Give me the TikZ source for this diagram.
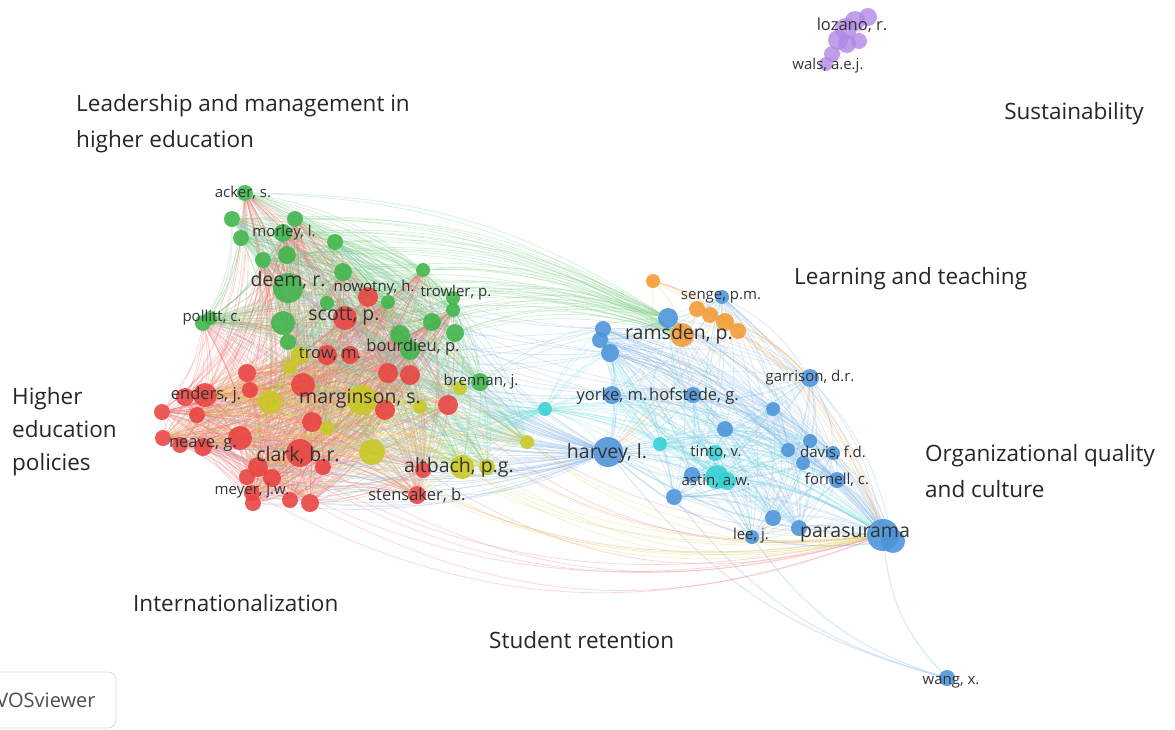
\documentclass[tikz,border=0pt]{standalone}
\usepackage{fontspec}
\setmainfont{Open Sans}
\usetikzlibrary{backgrounds}

\definecolor{vred}{HTML}{E8413E}
\definecolor{vgreen}{HTML}{3DB449}
\definecolor{vyellow}{HTML}{C9C821}
\definecolor{vblue}{HTML}{4A92D8}
\definecolor{vorange}{HTML}{F39A33}
\definecolor{vcyan}{HTML}{35D0D3}
\definecolor{vpurple}{HTML}{B088E4}
\definecolor{labgray}{HTML}{333333}

\tikzset{
  bub/.style={circle, inner sep=0pt, fill opacity=.88, minimum size=#1},
  gbub/.style={bub=#1, fill=vgreen},
  rbub/.style={bub=#1, fill=vred},
  ybub/.style={bub=#1, fill=vyellow},
  cbub/.style={bub=#1, fill=vcyan},
  bbub/.style={bub=#1, fill=vblue},
  obub/.style={bub=#1, fill=vorange},
  pbub/.style={bub=#1, fill=vpurple, fill opacity=.8},
  link/.style={line width=.8pt, draw opacity=.28},
  glink/.style={link, draw=vgreen!70},
  rlink/.style={link, draw=vred!75},
  ylink/.style={link, draw=vyellow!80},
  clink/.style={link, draw=vcyan!70},
  blink/.style={link, draw=vblue!70},
  olink/.style={link, draw=vorange!75},
  plink/.style={link, draw=vpurple!60},
  lab/.style={text=labgray, inner sep=1pt, font=\fontsize{15}{17}\selectfont},
  labm/.style={lab, font=\fontsize{16.5}{19}\selectfont},
  labl/.style={lab, font=\fontsize{19.5}{22}\selectfont},
  topic/.style={anchor=west, align=left, text=black!85, inner sep=0pt},
}

\begin{document}
\begin{tikzpicture}[x=1pt, y=-1pt]
\useasboundingbox (0,0) rectangle (1175,729);

% bubbles, one list per cluster
\foreach \x/\y/\r [count=\n] in {245/193/8, 232/219/8, 295/219/8, 241/238/8, 283/233/9,
    335/242/8, 263/260/8, 287/255/9, 343/272/9, 288/288/15, 423/270/7, 327/303/7,
    388/302/7, 453/298/7, 453/310/7, 283/323/12, 203/323/8, 210/318/7, 432/322/9,
    455/333/9, 400/335/10, 288/342/8, 410/350/10, 480/382/9}
  \node[gbub=\r*2pt] (g\n) at (\x,\y) {};
\foreach \x/\y/\r [count=\n] in {368/297/10, 345/318/12, 327/355/10, 247/373/9, 250/390/8,
    303/385/12, 388/373/10, 410/375/10, 205/395/12, 162/412/8, 197/415/8, 385/410/10,
    448/405/10, 312/422/10, 163/438/8, 240/438/12, 203/447/9, 180/445/8, 300/453/14,
    323/467/8, 258/467/10, 423/470/8, 247/477/8, 272/478/9, 252/493/8, 253/503/8,
    290/500/8, 310/503/9, 417/495/9, 350/355/9, 185/397/9}
  \node[rbub=\r*2pt] (r\n) at (\x,\y) {};
\foreach \x/\y/\r [count=\n] in {300/355/9, 270/402/12, 362/400/15, 420/407/7, 460/388/7,
    327/428/7, 372/452/13, 462/467/12, 487/467/8, 527/442/7, 290/367/7}
  \node[ybub=\r*2pt] (y\n) at (\x,\y) {};
\foreach \x/\y/\r [count=\n] in {545/409/7, 660/444/7, 715/453/8, 717/477/12, 727/481/9}
  \node[cbub=\r*2pt] (c\n) at (\x,\y) {};
\foreach \x/\y/\r [count=\n] in {722/297/7, 668/318/10, 603/329/8, 600/340/8, 610/353/9,
    810/378/9, 612/395/9, 693/395/8, 773/409/7, 725/429/8, 608/452/15, 788/450/7,
    810/441/7, 833/453/7, 803/463/7, 692/475/8, 837/480/8, 674/497/8, 773/518/8,
    799/528/8, 752/537/7, 883/535/16, 893/541/12, 947/678/8}
  \node[bbub=\r*2pt] (b\n) at (\x,\y) {};
\foreach \x/\y/\r [count=\n] in {653/281/7, 697/309/8, 710/315/8, 725/322/9, 738/331/8,
    682/335/12}
  \node[obub=\r*2pt] (o\n) at (\x,\y) {};
\foreach \x/\y/\r [count=\n] in {868/17/9, 855/21/10, 846/29/11, 838/40/10, 847/44/9,
    859/41/8, 832/54/8, 826/64/7}
  \node[pbub=\r*2pt] (p\n) at (\x,\y) {};

% links behind the bubbles
\begin{pgfonlayer}{background}
  \foreach \i in {1,...,23}{
    \pgfmathtruncatemacro\k{\i+1}
    \foreach \j in {\k,...,24} \draw[glink] (g\i) to[bend left=14] (g\j);
  }
  \foreach \i in {1,...,30}{
    \pgfmathtruncatemacro\k{\i+1}
    \foreach \j in {\k,...,31} \draw[rlink] (r\i) to[bend left=14] (r\j);
  }
  \foreach \i in {1,...,10}{
    \pgfmathtruncatemacro\k{\i+1}
    \foreach \j in {\k,...,11} \draw[ylink] (y\i) to[bend left=14] (y\j);
  }
  \foreach \i in {1,...,22}{
    \pgfmathtruncatemacro\k{\i+1}
    \foreach \j in {\k,...,23} \draw[blink] (b\i) to[bend left=14] (b\j);
  }
  \foreach \i in {11,18,21,22}
    \draw[blink, line width=1.2pt] (b\i) to[bend right=18] (b24);
  \draw[blink, line width=1.6pt, draw opacity=.4] (b11) to[bend right=14] (b22);
  \draw[blink, line width=1.4pt, draw opacity=.4] (b11) to[bend right=24] (b23);
  \foreach \i in {1,...,5}{
    \pgfmathtruncatemacro\k{\i+1}
    \foreach \j in {\k,...,6} \draw[olink] (o\i) to[bend left=14] (o\j);
  }
  \foreach \i in {1,...,4}{
    \pgfmathtruncatemacro\k{\i+1}
    \foreach \j in {\k,...,5} \draw[clink] (c\i) to[bend left=14] (c\j);
  }
  \foreach \i in {1,...,7}{
    \pgfmathtruncatemacro\k{\i+1}
    \foreach \j in {\k,...,8} \draw[plink] (p\i) to[bend left=14] (p\j);
  }
  % between clusters
  \foreach \i in {1,3,...,23}
    \foreach \j in {1,...,31} \draw[rlink] (g\i) to[bend left=14] (r\j);
  \foreach \i in {1,...,11}
    \foreach \j in {1,3,...,31} \draw[ylink] (r\j) to[bend left=14] (y\i);
  \foreach \i in {2,4,...,24}
    \foreach \j in {1,...,11} \draw[glink] (g\i) to[bend left=14] (y\j);
  \foreach \i in {1,...,24} {
    \draw[glink] (g\i) to[bend left=16] (o6);
    \draw[glink] (g\i) to[bend left=16] (b2);
    \draw[blink] (b11) to[bend left=14] (g\i);
  }
  \foreach \i in {1,...,31} {
    \draw[blink] (b11) to[bend left=14] (r\i);
    \draw[clink] (c1) to[bend left=10] (r\i);
  }
  \foreach \i in {1,4,...,31} \draw[rlink] (r\i) to[bend right=24] (b22);
  \foreach \i in {1,...,11} {
    \draw[blink] (b11) to[bend left=14] (y\i);
    \draw[ylink] (y\i) to[bend right=22] (b22);
  }
  \foreach \i in {3,5,7,8}
    \foreach \j in {2,6,10,16,22} \draw[blink] (b\i) to[bend left=14] (g\j);
  \foreach \i in {1,...,6} {
    \draw[olink] (o\i) to[bend left=20] (b22);
    \draw[olink] (o\i) to[bend left=14] (b11);
    \draw[olink] (o\i) to[bend left=14] (b6);
  }
  \foreach \i in {1,...,5}
    \foreach \j in {1,...,23} \draw[clink] (c\i) to[bend left=14] (b\j);
\end{pgfonlayer}

% item labels
\node[lab]  (acker)     at (243,193) {acker, s.};
\node[lab]  (morley)    at (284,233) {morley, l.};
\node[labl] (deem)      at (288,280) {deem, r.};
\node[lab]  (nowotny)   at (374,288) {nowotny, h.};
\node[lab]  (trowler)   at (456,293) {trowler, p.};
\node[lab]  (pollitt)   at (212,318) {pollitt, c.};
\node[labl] (scott)     at (344,316) {scott, p.};
\node[labm] (bourdieu)  at (413,347) {bourdieu, p.};
\node[labm] (trow)      at (330,354) {trow, m.};
\node[lab]  (brennan)   at (481,382) {brennan, j.};
\node[labm] (enders)    at (206,395) {enders, j.};
\node[labl] (marginson) at (360,399) {marginson, s.};
\node[labm] (neave)     at (203,445) {neave, g.};
\node[labl] (clark)     at (298,455) {clark, b.r.};
\node[labl] (altbach)   at (459,467) {altbach, p.g.};
\node[lab]  (meyer)     at (252,491) {meyer, j.w.};
\node[labm] (stensaker) at (417,495) {stensaker, b.};
\node[lab]  (senge)     at (721,297) {senge, p.m.};
\node[labl] (ramsden)   at (679,334) {ramsden, p.};
\node[lab]  (garrison)  at (810,378) {garrison, d.r.};
\node[labm] (yorke)     at (612,396) {yorke, m.};
\node[labm] (hofstede)  at (694,396) {hofstede, g.};
\node[labl] (harvey)    at (607,453) {harvey, l.};
\node[lab]  (tinto)     at (716,452) {tinto, v.};
\node[lab]  (davis)     at (833,453) {davis, f.d.};
\node[lab]  (astin)     at (716,481) {astin, a.w.};
\node[lab]  (fornell)   at (837,480) {fornell, c.};
\node[lab]  (lee)       at (751,536) {lee, j.};
\node[labl] (parasu)    at (855,535) {parasurama};
\node[lab]  (wang)      at (951,682) {wang, x.};
\node[labm] (lozano)    at (852,25)  {lozano, r.};
\node[lab]  (wals)      at (828,66)  {wals, a.e.j.};

% cluster titles
\node[topic, font=\fontsize{22.5}{36}\selectfont] (leader) at (76,124)
  {Leadership and management in\\higher education};
\node[topic, anchor=east, font=\fontsize{22.5}{25}\selectfont] (sustain) at (1144,114) {Sustainability};
\node[topic, font=\fontsize{22.5}{25}\selectfont] (learn) at (794,279) {Learning and teaching};
\node[topic, font=\fontsize{22.5}{33}\selectfont] (policy) at (12,432) {Higher\\education\\policies};
\node[topic, font=\fontsize{22.5}{36}\selectfont] (orgq) at (925,471) {Organizational quality\\and culture};
\node[topic, font=\fontsize{22.5}{25}\selectfont] (intl) at (133,603) {Internationalization};
\node[topic, font=\fontsize{22.5}{25}\selectfont] (retent) at (489,640) {Student retention};

% logo button
\node[draw=black!15, line width=.8pt, rounded corners=8pt, minimum width=140pt,
  minimum height=56pt, text=black!70, font=\fontsize{20}{22}\selectfont] (vos) at (46,700) {VOSviewer};
\end{tikzpicture}
\end{document}
